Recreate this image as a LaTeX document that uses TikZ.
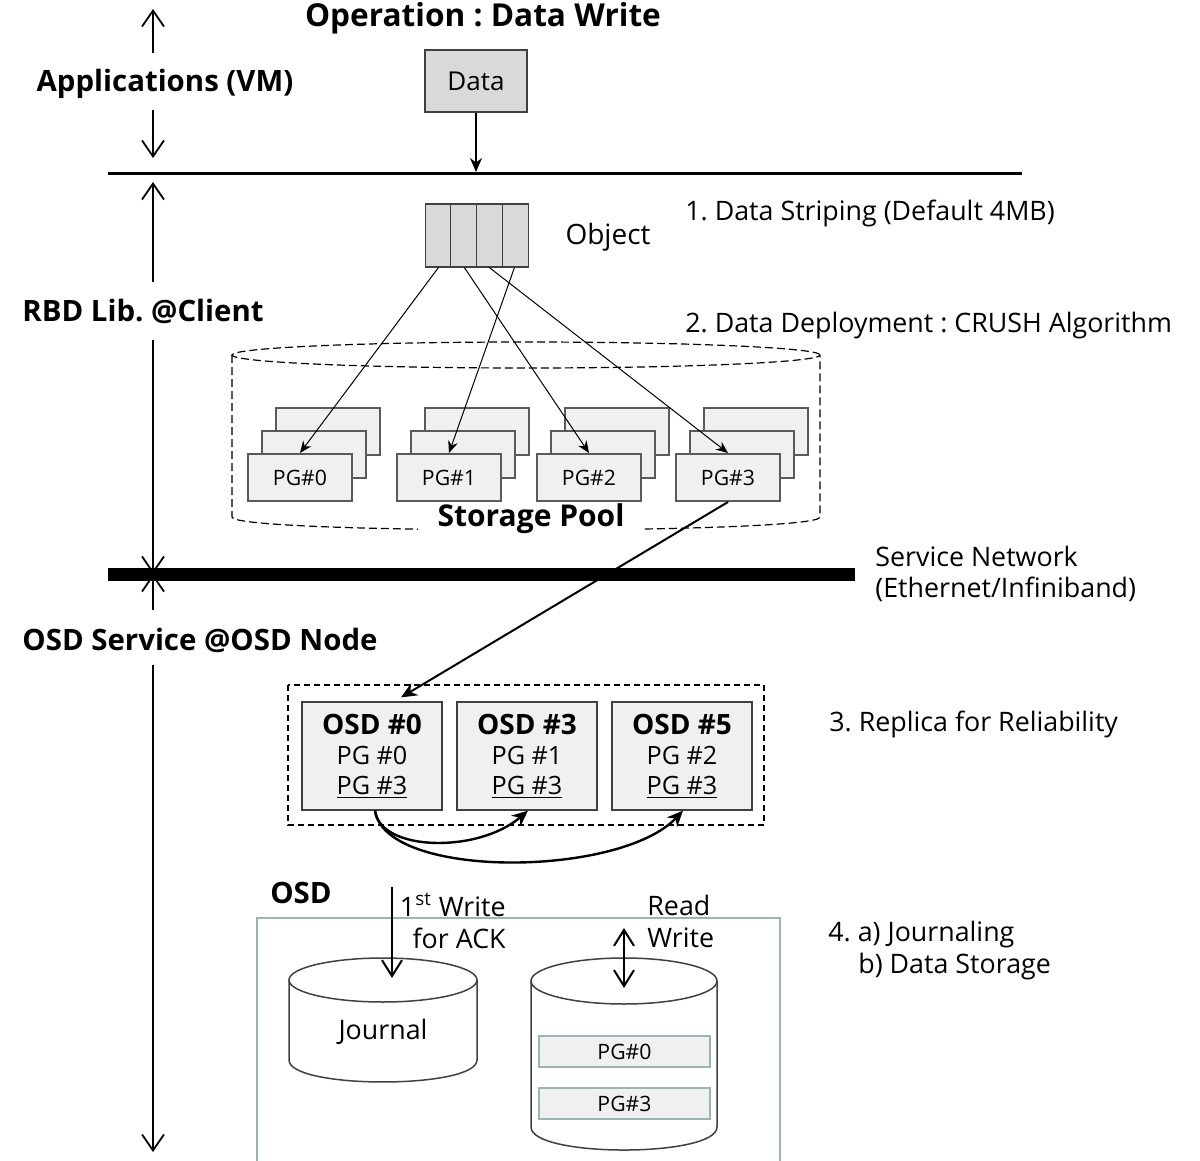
\documentclass[tikz,border=0pt]{standalone}
\usepackage{fontspec}
\setmainfont{Open Sans}
\usetikzlibrary{arrows.meta,calc}
\frenchspacing
\definecolor{boxgray}{HTML}{D9D9D9}
\definecolor{pgfill}{HTML}{F0F0F0}
\definecolor{pgline}{HTML}{5A5A5A}
\definecolor{edgegray}{HTML}{404040}
\definecolor{osdframe}{HTML}{9BB5B5}
\tikzset{
  txt/.style={font=\fontsize{13.4}{15}\selectfont, inner sep=0pt},
  hdr/.style={font=\fontsize{14.7}{16}\selectfont\bfseries, inner sep=0pt},
  graybox/.style={draw=edgegray, line width=0.6pt, fill=boxgray, minimum width=51pt, minimum height=31pt, inner sep=0pt},
  pgcard/.style={draw=pgline, line width=1pt, fill=pgfill, minimum width=52pt, minimum height=23.5pt, inner sep=0pt, font=\fontsize{10.6}{12}\selectfont},
  osdbox/.style={draw=edgegray, line width=0.6pt, fill=pgfill, minimum width=70pt, minimum height=54pt, inner sep=0pt, align=center, font=\fontsize{12.6}{15}\selectfont},
  pgbar/.style={draw=osdframe, line width=1pt, fill=pgfill, minimum width=85.5pt, minimum height=15.5pt, inner sep=0pt, font=\fontsize{10.6}{12}\selectfont},
  layerarrow/.style={line width=0.9pt, -{Straight Barb[length=8pt,width=11pt]}},
  thinarrow/.style={line width=0.5pt, -{Stealth[length=6pt,width=5pt]}},
  curvearrow/.style={line width=1.2pt, -{Stealth[length=8pt,width=7pt]}},
  ioarrow/.style={line width=1pt, -{Straight Barb[length=8pt,width=10pt]}},
  cylinder edge/.style={draw=edgegray, line width=0.75pt},
  pooledge/.style={line width=0.6pt, dash pattern=on 4pt off 2pt},
}
\begin{document}
\begin{tikzpicture}[x=0.5pt, y=-0.5pt]
\useasboundingbox (0,0) rectangle (1200,1161);

% ---------------- layer labels and layer arrows ----------------
\node[hdr, font=\fontsize{15.8}{18}\selectfont\bfseries] (title) at (483,18) {Operation : Data Write};
\node[hdr] (apps) at (165,84) {Applications (VM)};
\node[hdr, anchor=west] (rbd) at (22,311) {RBD Lib. @Client};
\node[hdr, anchor=west] (osdsvc) at (22,640) {OSD Service @OSD Node};

\coordinate (a1s) at (153,53);  \coordinate (a1e) at (153,9);
\coordinate (a2s) at (153,110); \coordinate (a2e) at (153,158);
\coordinate (a3s) at (153,282); \coordinate (a3e) at (153,182);
\coordinate (a4s) at (153,340); \coordinate (a4e) at (153,574);
\coordinate (a5s) at (153,610); \coordinate (a5e) at (153,574);
\coordinate (a6s) at (153,665); \coordinate (a6e) at (153,1152);
\draw[layerarrow] (a1s) -- (a1e);
\draw[layerarrow] (a2s) -- (a2e);
\draw[layerarrow] (a3s) -- (a3e);
\draw[layerarrow] (a4s) -- (a4e);
\draw[layerarrow] (a5s) -- (a5e);
\draw[layerarrow] (a6s) -- (a6e);

% application / client boundary
\coordinate (bndL) at (108,174); \coordinate (bndR) at (1022,174);
\draw[line width=1.5pt] (bndL) -- (bndR);

% service network
\coordinate (netL) at (108,574); \coordinate (netR) at (855,574);
\draw[line width=6.5pt] (netL) -- (netR);
\node[txt, anchor=west] (net1) at (875,556) {Service Network};
\node[txt, anchor=west] (net2) at (875,589) {(Ethernet/Infiniband)};

% ---------------- data and object ----------------
\node[graybox, font=\fontsize{13}{15}\selectfont] (data) at (476,81) {Data};
\coordinate (dtip) at (476,172);
\draw[line width=0.9pt, -{Stealth[length=7pt,width=6pt]}] (data.south) -- (dtip);

\node[graybox, minimum width=51.5pt, minimum height=31.5pt] (obj) at (477,235.5) {};
\draw[edgegray, line width=0.6pt]
  ($(obj.south west)+(25.75,0)$) -- ($(obj.north west)+(25.75,0)$)
  ($(obj.south west)+(51.5,0)$) -- ($(obj.north west)+(51.5,0)$)
  ($(obj.south west)+(77.25,0)$) -- ($(obj.north west)+(77.25,0)$);
\node[txt, font=\fontsize{14}{16}\selectfont] (objlbl) at (608,237) {Object};
\node[txt, anchor=west] (step1) at (685,213) {1. Data Striping (Default 4MB)};
\node[txt, anchor=west] (step2) at (685,326) {2. Data Deployment : CRUSH Algorithm};

% ---------------- storage pool ----------------
\draw[pooledge] (526,355) ellipse [x radius=147pt, y radius=6.5pt];
\draw[pooledge] (232,355) -- (232,517) .. controls (232,534.3) and (820,534.3) .. (820,517) -- (820,355);

\foreach \i/\x in {0/247,1/396,2/536,3/675} {
  \node[pgcard, anchor=north west] (pg\i-back) at (\x+28,407) {};
  \node[pgcard, anchor=north west] (pg\i-mid) at (\x+14,430) {};
  \node[pgcard, anchor=north west] (pg\i) at (\x,453) {PG\#\i};
}
\node[hdr, font=\fontsize{15}{17}\selectfont\bfseries, fill=white, inner xsep=10pt, inner ysep=1pt] (pool) at (531,519) {Storage Pool};

\coordinate (o1) at ($(obj.south west)+(13.5,0)$);
\coordinate (o2) at ($(obj.south west)+(39.5,0)$);
\coordinate (o3) at ($(obj.south west)+(64.5,0)$);
\coordinate (o4) at ($(obj.south west)+(89.5,0)$);
\draw[thinarrow] (o1) -- (pg0.north);
\draw[thinarrow] (o4) -- (pg1.north);
\draw[thinarrow] (o2) -- (pg2.north);
\draw[thinarrow] (o3) -- (pg3.north);

% ---------------- replicas ----------------
\draw[line width=0.6pt, dash pattern=on 3pt off 2pt] (288,685) rectangle (764,825);
\node[osdbox] (osd0) at (372,756) {{\fontsize{14}{15}\selectfont\bfseries OSD \#0}\\PG \#0\\\underline{PG \#3}};
\node[osdbox] (osd3) at (527,756) {{\fontsize{14}{15}\selectfont\bfseries OSD \#3}\\PG \#1\\\underline{PG \#3}};
\node[osdbox] (osd5) at (682,756) {{\fontsize{14}{15}\selectfont\bfseries OSD \#5}\\PG \#2\\\underline{PG \#3}};
\node[txt, anchor=west] (step3) at (829,724) {3. Replica for Reliability};

\coordinate (osdin) at ($(osd0.north)+(29,-4)$);
\draw[line width=1pt, -{Stealth[length=8pt,width=7pt]}] (pg3.south) -- (osdin);

\coordinate (rep) at ($(osd0.south)+(3,0)$);
\draw[curvearrow] (rep) .. controls +(5,41) and +(-50,43) .. ($(osd3.south)+(1,0)$);
\draw[curvearrow] (rep) .. controls +(10,69) and +(-63,67) .. ($(osd5.south)+(1,0)$);

% ---------------- OSD internals ----------------
\draw[osdframe, line width=0.8pt] (257,1161) -- (257,918) -- (780,918) -- (780,1161);
\node[hdr] (osdlbl) at (301,893) {OSD};

% journal disk
\draw[cylinder edge] (383,980) ellipse [x radius=47pt, y radius=11pt];
\draw[cylinder edge] (289,980) -- (289,1060) .. controls (289,1089.3) and (477,1089.3) .. (477,1060) -- (477,980);
\node[txt] (journal) at (383,1032) {Journal};

% data disk
\draw[cylinder edge] (624,981) ellipse [x radius=46.5pt, y radius=11.5pt];
\draw[cylinder edge] (531,981) -- (531,1127) .. controls (531,1157.7) and (717,1157.7) .. (717,1127) -- (717,981);
\node[pgbar] (disk0) at (624.5,1051.5) {PG\#0};
\node[pgbar] (disk3) at (624.5,1103.5) {PG\#3};

\coordinate (jtop) at (392,887); \coordinate (jtip) at (392,978);
\draw[ioarrow] (jtop) -- (jtip);
\node[txt, anchor=east] (ack1) at (506,905) {1\textsuperscript{st} Write};
\node[txt, anchor=east] (ack2) at (506,938) {for ACK};

\coordinate (rwtop) at (624,928); \coordinate (rwbot) at (624,988);
\draw[line width=1pt, {Straight Barb[length=8pt,width=10pt]}-{Straight Barb[length=8pt,width=10pt]}] (rwtop) -- (rwbot);
\node[txt, anchor=west] (rw1) at (647,905) {Read};
\node[txt, anchor=west] (rw2) at (647,938) {Write};

\node[txt, anchor=west] (step4a) at (828,935) {4. a) Journaling};
\node[txt, anchor=west] (step4b) at (858,967) {b) Data Storage};
\end{tikzpicture}
\end{document}
